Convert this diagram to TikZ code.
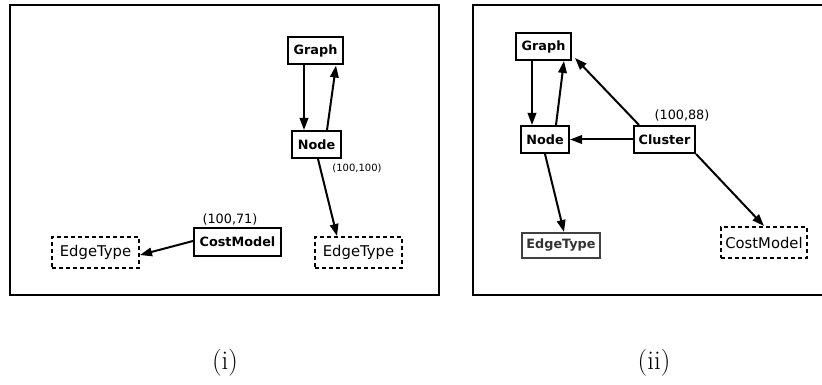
\documentclass[tikz,border=0pt]{standalone}
\usepackage{fontspec}
\newfontfamily\dv{DejaVu Sans}
\usetikzlibrary{arrows.meta}
\tikzset{
  frame/.style={line width=2pt},
  cls/.style={draw, line width=2pt, inner sep=0pt, minimum height=27pt, font=\dv\bfseries\fontsize{12.8}{14}\selectfont},
  ext/.style={draw, dashed, dash pattern=on 4pt off 3pt, line width=2pt, inner sep=0pt, minimum height=31pt, font=\dv\fontsize{14.8}{17}\selectfont},
  greybox/.style={draw=black!75, text=black!80, line width=2pt, inner sep=0pt, minimum height=25pt, font=\dv\bfseries\fontsize{12.8}{14}\selectfont},
  lbl/.style={inner sep=0pt, font=\dv\fontsize{12.8}{14}\selectfont},
  slbl/.style={inner sep=0pt, font=\dv\fontsize{10}{12}\selectfont},
  captxt/.style={inner sep=0pt, font=\fontsize{27}{30}\selectfont},
  arr/.style={line width=2pt, -{Triangle[length=12pt,width=8.5pt]}}
}
\begin{document}
\begin{tikzpicture}[x=1pt,y=-1pt]
\useasboundingbox (0,0) rectangle (822,385);
% frames
\draw[frame] (10,5) rectangle (439,295);
\draw[frame] (823,5) -- (473,5) -- (473,295) -- (823,295);
% left panel
\node[cls, minimum width=55pt] (G1) at (315.5,51) {Graph};
\node[cls, minimum width=49pt] (N1) at (316.5,144.5) {Node};
\node[ext, minimum width=87pt] (ER1) at (358.5,252.5) {EdgeType};
\node[cls, minimum width=87pt, minimum height=28pt] (CM1) at (237.5,242) {CostModel};
\node[ext, minimum width=87pt] (EL1) at (95.5,252.5) {EdgeType};
\node[slbl] (L100) at (357,168) {(100,100)};
\node[lbl] (L71) at (230,219) {(100,71)};
\draw[arr] ([xshift=-11.5pt]G1.south) -- ([xshift=-12.5pt]N1.north);
\draw[arr] ([xshift=10.5pt]N1.north) -- ([xshift=20.5pt]G1.south);
\draw[arr] ([xshift=1.5pt]N1.south) -- ([xshift=-21.5pt]ER1.north);
\draw[arr] ([yshift=1pt]CM1.west) -- ([yshift=-2.5pt]EL1.east);
% right panel
\node[cls, minimum width=55pt] (G2) at (543.5,46.5) {Graph};
\node[cls, minimum width=48pt] (N2) at (545,139.5) {Node};
\node[cls, minimum width=61pt] (C2) at (664.5,139.5) {Cluster};
\node[greybox, minimum width=78pt] (ET2) at (561,245.5) {EdgeType};
\node[ext, minimum width=86pt] (CM2) at (764,242.5) {CostModel};
\node[lbl] (L88) at (682,115) {(100,88)};
\draw[arr] ([xshift=-11.5pt]G2.south) -- ([xshift=-13pt]N2.north);
\draw[arr] ([xshift=11pt]N2.north) -- ([xshift=20.5pt]G2.south);
\draw[arr] (C2.west) -- (N2.east);
\draw[arr] ([xshift=6pt]C2.north west) -- ([xshift=3pt,yshift=3pt]G2.south east);
\draw[arr] (C2.south east) -- (CM2.north);
\draw[arr] (N2.south) -- ([xshift=3pt]ET2.north);
% captions
\node[captxt] (c1) at (225,363) {(i)};
\node[captxt] (c2) at (654,363) {(ii)};
\end{tikzpicture}
\end{document}
